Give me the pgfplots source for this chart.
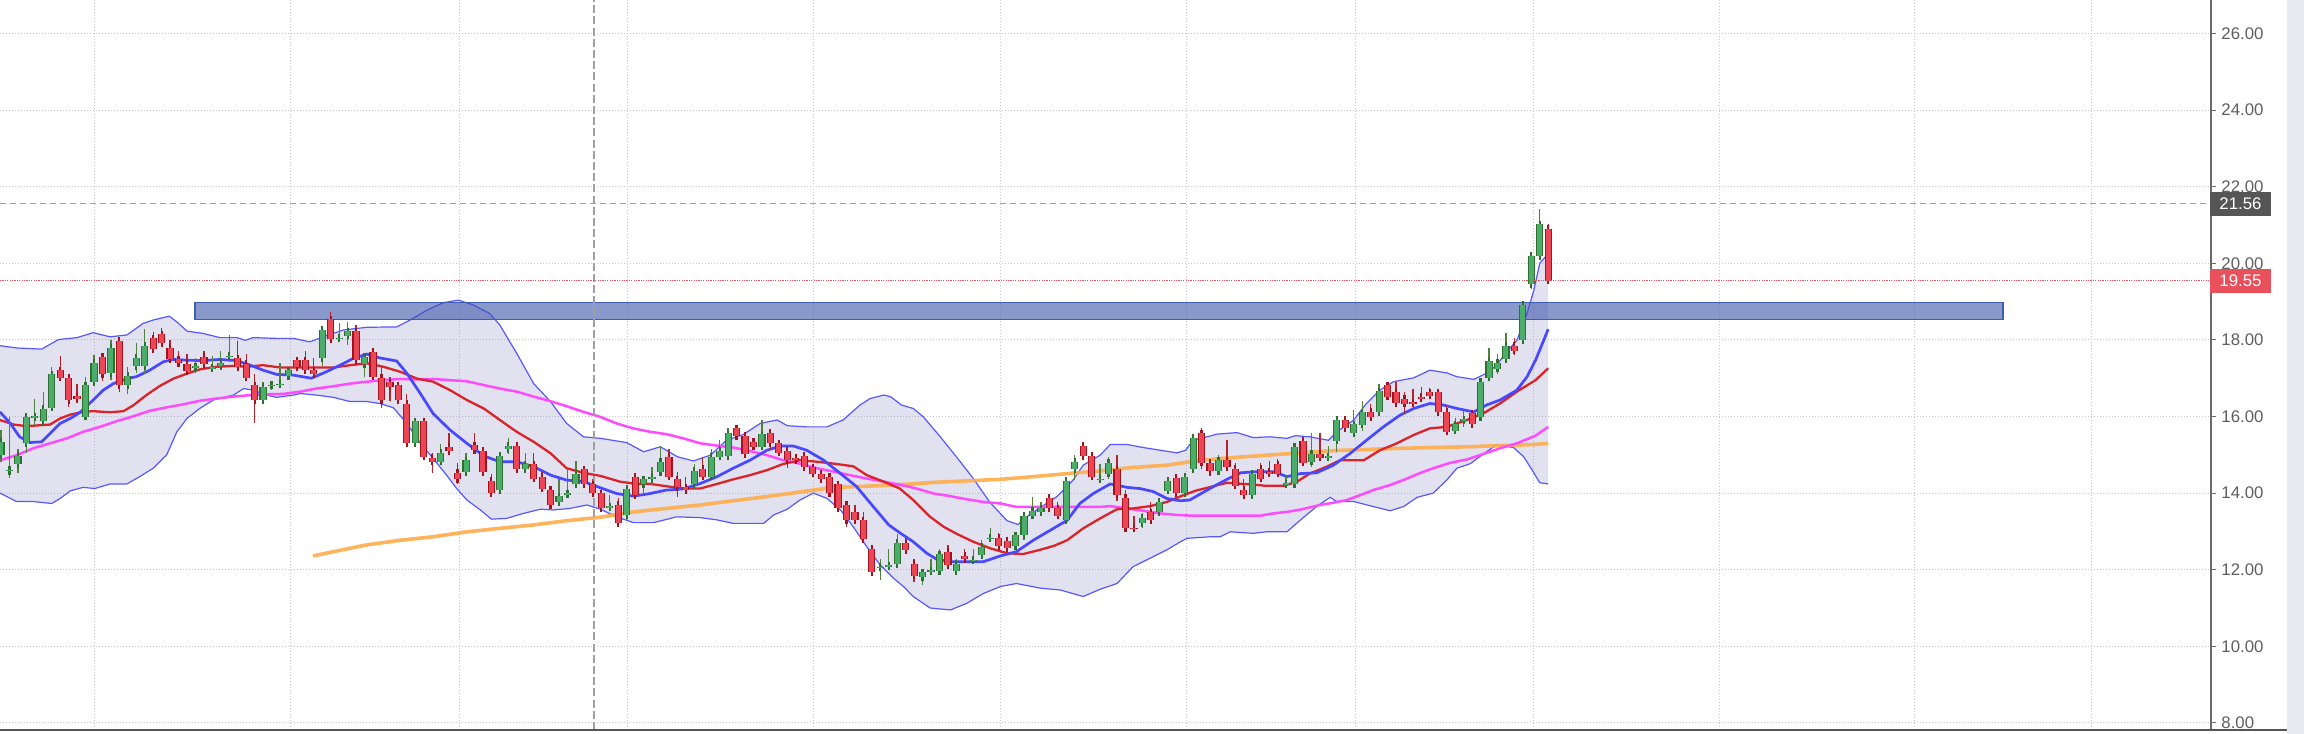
\documentclass[border=0pt]{standalone}
\usepackage{fontspec}
\setmainfont{Liberation Sans}
\usepackage{pgfplots}
\pgfplotsset{compat=1.18}
\usepackage{pgfplotstable}

\definecolor{gfill}{RGB}{76,172,106}
\definecolor{gline}{RGB}{46,112,46}
\definecolor{gwick}{RGB}{80,130,62}
\definecolor{rfill}{RGB}{234,70,86}
\definecolor{rline}{RGB}{165,18,30}
\definecolor{rwick}{RGB}{180,36,46}
\definecolor{bandfill}{RGB}{100,100,180}
\definecolor{bandline}{RGB}{88,88,255}
\definecolor{mablue}{RGB}{72,72,255}
\definecolor{mared}{RGB}{218,36,42}
\definecolor{mamag}{RGB}{255,75,255}
\definecolor{maorange}{RGB}{255,172,75}
\definecolor{zone}{RGB}{60,85,170}
\definecolor{zoneline}{RGB}{65,90,180}
\definecolor{gridc}{RGB}{200,200,200}
\definecolor{ticktext}{RGB}{95,95,95}
\definecolor{axisc}{RGB}{105,105,105}
\definecolor{lastred}{RGB}{232,80,92}
\definecolor{crossc}{RGB}{85,85,85}
\definecolor{dashc}{RGB}{160,160,160}
\definecolor{stripc}{RGB}{231,235,241}
\definecolor{bottomc}{RGB}{85,85,85}

\pgfplotstableread{
i O H L C
0 15.00 15.65 14.82 15.34
1 14.58 15.99 14.39 14.61
2 14.75 15.14 14.53 14.98
3 15.30 16.04 15.06 16.00
4 15.99 16.47 15.78 16.01
5 15.88 16.63 15.86 16.20
6 16.23 17.30 16.17 17.10
10 16.00 17.02 15.91 16.82
11 16.89 17.60 16.84 17.41
13 17.13 18.00 16.95 17.80
15 16.82 17.30 16.58 17.06
16 17.32 17.93 17.14 17.53
17 17.32 18.28 17.14 17.84
23 17.29 17.54 17.14 17.31
25 17.26 17.58 17.23 17.28
26 17.32 17.71 17.23 17.41
27 17.57 18.12 17.43 17.59
31 16.43 16.91 16.41 16.78
32 16.81 16.91 16.69 16.83
33 16.83 17.39 16.79 16.85
34 17.06 17.30 17.04 17.21
38 17.52 18.30 17.32 18.27
40 18.03 18.43 18.02 18.05
41 18.11 18.47 17.86 18.23
43 17.36 17.58 17.04 17.56
49 15.30 15.89 15.24 15.88
52 14.82 15.27 14.79 15.05
55 14.54 15.05 14.53 14.86
59 14.08 14.99 14.06 14.97
60 15.14 15.45 15.02 15.23
62 14.62 15.04 14.60 14.75
66 13.76 14.36 13.75 13.92
67 13.97 14.64 13.96 14.00
68 14.23 14.83 14.23 14.51
72 13.63 13.95 13.58 13.66
74 13.42 14.14 13.31 14.12
76 14.23 14.43 14.00 14.36
77 14.36 14.67 14.23 14.43
78 14.54 15.23 14.53 14.82
82 14.23 14.76 14.10 14.58
84 14.43 15.14 14.41 14.95
85 14.95 15.38 14.93 15.10
86 14.97 15.69 14.86 15.56
90 15.21 15.92 15.19 15.54
104 12.05 12.29 11.73 12.07
105 12.09 12.53 12.06 12.12
106 12.15 12.92 12.14 12.71
109 11.80 11.97 11.60 11.93
110 11.96 12.29 11.96 11.98
111 11.96 12.55 11.95 12.40
113 11.96 12.29 11.95 12.16
115 12.24 12.53 12.21 12.26
116 12.38 12.77 12.37 12.60
117 12.83 13.08 12.82 12.84
120 12.61 12.92 12.60 12.90
121 12.90 13.43 12.77 13.41
122 13.41 13.89 13.38 13.54
123 13.50 13.77 13.40 13.60
126 13.29 14.34 13.28 14.32
127 14.62 14.99 14.34 14.82
130 14.36 14.75 14.34 14.37
131 14.51 14.95 14.38 14.79
135 13.21 13.47 13.08 13.36
137 13.50 13.79 13.48 13.77
138 14.06 14.43 14.00 14.32
140 14.00 14.44 13.98 14.43
141 14.63 15.47 14.62 15.45
144 14.58 14.99 14.57 14.86
148 13.95 14.60 13.86 14.51
152 14.24 14.44 14.15 14.26
153 14.23 15.23 14.23 15.21
155 14.82 15.57 14.69 15.02
157 14.94 15.23 14.86 14.96
158 15.37 15.97 15.08 15.92
160 15.56 16.17 15.54 15.80
161 15.79 16.40 15.63 16.11
163 16.11 16.84 16.04 16.66
172 15.63 15.97 15.62 15.80
173 15.91 16.19 15.73 15.93
175 15.99 16.92 15.97 16.91
176 17.01 17.78 17.00 17.45
177 17.25 17.62 17.12 17.41
178 17.49 18.17 17.47 17.85
180 18.00 18.93 17.98 18.91
181 19.45 20.21 19.32 20.19
182 20.19 21.41 20.17 21.02
}\greencandles

\pgfplotstableread{
i O H L C
7 17.21 17.58 16.97 17.01
8 17.01 17.10 16.26 16.43
9 16.54 16.84 16.36 16.47
12 17.56 17.60 16.93 17.10
14 17.97 18.04 16.65 16.82
18 18.04 18.21 17.71 17.75
19 18.15 18.32 17.84 17.91
20 17.80 18.01 17.40 17.49
21 17.49 17.71 17.28 17.40
22 17.37 17.63 17.14 17.19
24 17.56 17.71 17.32 17.36
28 17.52 17.97 17.26 17.28
29 17.37 17.63 17.00 17.01
30 16.82 17.10 15.82 16.43
35 17.47 17.54 17.23 17.28
36 17.47 17.72 17.19 17.21
37 17.21 17.54 17.08 17.10
39 18.54 18.72 18.01 18.02
42 18.23 18.40 17.45 17.47
44 17.69 17.71 17.03 17.04
45 17.01 17.30 16.23 16.43
46 16.89 17.02 16.41 16.78
47 16.82 16.91 16.41 16.43
48 16.34 16.60 15.28 15.30
50 15.88 15.89 14.93 14.95
51 14.93 15.04 14.53 14.82
53 15.21 15.57 15.08 15.10
54 14.53 14.79 14.24 14.36
56 15.25 15.57 15.10 15.12
57 15.10 15.14 14.45 14.54
58 14.32 14.51 13.90 14.00
61 15.23 15.30 14.60 14.63
63 14.75 15.04 14.37 14.38
64 14.43 14.56 14.10 14.12
65 14.08 14.18 13.67 13.69
69 14.62 14.66 14.22 14.23
70 14.23 14.36 13.97 14.00
71 14.00 14.12 13.58 13.60
73 13.69 13.86 13.19 13.21
75 14.43 14.44 13.93 13.95
79 14.95 15.14 14.41 14.43
80 14.36 14.56 13.90 14.15
81 14.15 14.41 14.00 14.08
83 14.63 14.95 14.41 14.43
87 15.69 15.70 15.40 15.49
88 15.49 15.52 15.01 15.02
89 15.34 15.38 15.12 15.21
91 15.57 15.59 15.14 15.30
92 15.30 15.34 15.02 15.06
93 15.10 15.21 14.65 14.86
94 14.93 14.99 14.82 14.86
95 14.97 15.02 14.65 14.67
96 14.67 14.73 14.47 14.51
97 14.51 14.60 14.34 14.36
98 14.43 14.44 13.97 14.00
99 14.23 14.25 13.58 13.60
100 13.69 13.70 13.12 13.29
101 13.50 13.70 13.28 13.29
102 13.29 13.50 12.77 12.79
103 12.55 12.60 11.90 11.93
107 12.71 12.82 12.49 12.51
108 12.16 12.29 11.68 11.84
112 12.47 12.64 12.09 12.12
114 12.36 12.55 12.25 12.27
118 12.83 12.95 12.61 12.62
119 12.75 12.79 12.53 12.56
124 13.88 13.89 13.54 13.60
125 13.60 13.77 13.40 13.41
128 15.23 15.30 14.95 14.97
129 14.97 14.99 14.38 14.43
132 14.63 14.99 13.79 13.96
133 13.88 14.08 13.08 13.09
134 13.10 13.41 13.07 13.08
136 13.50 13.77 13.28 13.29
139 14.40 14.41 13.98 14.00
142 15.56 15.69 14.62 14.79
143 14.79 14.86 14.45 14.58
145 14.86 15.38 14.66 14.67
146 14.63 14.79 14.18 14.19
147 14.08 14.36 13.94 13.95
149 14.63 14.79 14.37 14.38
150 14.55 14.83 14.49 14.52
151 14.75 14.88 14.47 14.51
154 15.37 15.38 14.77 14.79
156 15.02 15.57 14.88 14.93
159 15.92 15.95 15.67 15.70
162 16.12 16.32 15.97 15.99
164 16.82 16.91 16.50 16.52
165 16.63 16.91 16.32 16.34
166 16.47 16.63 16.10 16.34
167 16.37 16.72 16.34 16.35
168 16.51 16.76 16.45 16.48
169 16.63 16.75 16.50 16.54
170 16.63 16.66 16.04 16.11
171 16.12 16.27 15.58 15.60
174 16.08 16.11 15.78 15.80
179 17.85 18.04 17.60 17.72
183 20.90 21.02 19.54 19.55
}\redcandles

\pgfplotsset{
  wick/.style={draw=none, mark=none, forget plot,
    error bars/.cd, y dir=both, y explicit,
    error bar style={line width=0.65bp, draw=#1}, error mark=none},
  bodyline/.style={draw=none, mark=none, forget plot,
    error bars/.cd, y dir=both, y explicit,
    error bar style={line width=3.6bp, draw=#1}, error mark=-,
    error mark options={line width=1.1bp, mark size=1.8bp, draw=#1}},
  bodyfill/.style={draw=none, mark=none, forget plot,
    error bars/.cd, y dir=both, y explicit,
    error bar style={line width=2.5bp, draw=#1}, error mark=none},
}

\newcommand{\labfont}{\fontsize{8.4bp}{10bp}\selectfont}

\begin{document}
\begin{tikzpicture}
\fill[white] (0,0) rectangle (1152bp,-367bp);
\fill[stripc] (1143.5bp,0) rectangle (1152bp,-367bp);
\begin{axis}[
  at={(0,0)}, anchor=north west,
  scale only axis, width=1105.5bp, height=365bp,
  xmin=-0.118, xmax=261.4, ymin=7.815, ymax=26.875,
  axis x line=bottom, axis y line=right,
  axis line style={-},
  x axis line style={draw=none},
  y axis line style={draw=axisc, line width=0.9bp},
  xtick={11.1,34.2,54.2,74.1,96.1,118.2,140.2,160.2,181.3,203.3,226.3,247.3},
  xticklabels={},
  xtick style={draw=none},
  ytick={8,10,12,14,16,18,20,22,24,26},
  ytick align=outside,
  ytick style={draw=axisc, line width=0.5bp},
  major tick length=2.5bp,
  grid=major,
  grid style={draw=gridc, line width=0.5bp, dash pattern=on 0.5bp off 1bp},
  scaled y ticks=false,
  y tick label style={font=\labfont, text=ticktext, anchor=west, inner sep=0pt, xshift=2.5bp,
    /pgf/number format/fixed, /pgf/number format/fixed zerofill, /pgf/number format/precision=2},
  /pgf/number format/assume math mode=true,
  no markers,
  clip=true,
]
% Bollinger band area (upper edge, then lower edge backwards)
\addplot[fill=bandfill, fill opacity=0.19, draw=none, mark=none, forget plot] coordinates {
(-0.12,17.85) (1.85,17.79) (4.8,17.76) (6.8,18.01) (9,18.06) (10.9,18.19) (12.9,18.08) (14.9,18.13) (16.8,18.43) (18,18.52) (19.9,18.62) (20.8,18.47) (22,18.23) (23.9,18.17) (25.9,18.06) (27.9,18.06) (28.9,17.99) (29.8,18.06) (32.6,18.04) (34.6,18.04) (36.5,17.95) (38.9,18.14) (40.5,18.26) (43.3,18.33) (46.8,18.34) (48.4,18.52) (50.4,18.78) (52.3,18.97) (54.1,19.04) (55.9,18.91) (57.8,18.69) (59,18.39) (61,17.65) (63,16.86) (65,16.39) (66.9,15.82) (68.9,15.47) (70.9,15.43) (74,15.32) (76,15.08) (78,15.21) (80,14.95) (81.9,14.84) (83.9,14.99) (85.8,15.38) (87.8,15.53) (89.8,15.82) (91.8,15.91) (93,15.76) (95.3,15.73) (97.7,15.73) (99.6,15.91) (101.6,16.3) (102.8,16.47) (104.4,16.56) (105.2,16.52) (106.5,16.3) (107.9,16.21) (109.1,15.99) (111.1,15.47) (113.1,14.92) (115,14.38) (117,13.75) (119,13.28) (120.3,13.18) (121.3,13.38) (122.9,13.62) (124.9,13.91) (126.8,14.34) (128,14.73) (130,14.99) (131.2,15.27) (133.2,15.27) (135.1,15.19) (137.1,15.12) (139.1,15.05) (140.1,15.12) (141,15.38) (143,15.49) (143.8,15.54) (146.2,15.58) (148.1,15.45) (150.1,15.47) (152.1,15.43) (153.1,15.5) (154.8,15.47) (157,15.38) (158,15.6) (160,15.91) (161.5,16.34) (163.1,16.69) (164.7,16.91) (167.1,17.01) (169,17.21) (171,17.14) (172.2,17.04) (174.2,16.97) (175.7,17.13) (176.9,17.34) (178.1,17.69) (179.3,17.99) (180.5,18.69) (181.3,19.3) (182,20.0) (183,20.25)
(183,14.24) (182,14.27) (181.3,14.53) (180.1,14.95) (178.9,15.19) (176.9,15.26) (175.3,15.02) (173.8,14.77) (172.2,14.65) (171,14.34) (169.4,14.0) (167.5,13.89) (165.9,13.65) (164.3,13.54) (162.3,13.65) (160,13.78) (158,13.78) (157.2,13.89) (155.6,13.65) (153.7,13.3) (152.1,12.99) (149.7,12.99) (148.1,12.95) (145.4,12.99) (144.2,12.86) (143,12.86) (140.3,12.82) (139.5,12.73) (137.9,12.52) (135.9,12.3) (133.9,12.08) (132,11.64) (130,11.49) (128,11.3) (125.3,11.47) (122.9,11.52) (120.1,11.64) (118.2,11.56) (116.2,11.38) (114.2,11.12) (112.3,10.95) (109.9,11.0) (107.9,11.3) (106.8,11.55) (105.6,11.77) (104,12.12) (102.4,12.6) (100.8,13.12) (99.3,13.56) (97.7,13.86) (96.1,14.0) (94.5,13.82) (93,13.58) (91.4,13.43) (90.2,13.21) (88.6,13.21) (86.6,13.21) (84.7,13.3) (82.7,13.36) (79.9,13.38) (77.2,13.23) (74.8,13.23) (72.8,13.38) (70.9,13.58) (69.3,13.69) (67.3,13.6) (65.3,13.56) (63.8,13.58) (61.8,13.47) (59.8,13.34) (58,13.32) (56.7,13.56) (55.1,13.82) (53.9,14.12) (52.7,14.47) (51.1,14.91) (49.6,15.3) (48,15.82) (46.4,16.23) (44.8,16.34) (43.3,16.39) (41.3,16.39) (39.3,16.5) (37.3,16.56) (35.4,16.6) (34.6,16.56) (32.6,16.5) (31.4,16.56) (29.8,16.69) (28.7,16.73) (27.5,16.56) (25.1,16.43) (23.5,16.21) (22,15.95) (20.8,15.6) (19.6,15.0) (18,14.65) (16.4,14.43) (14.9,14.24) (12.9,14.24) (11.1,14.12) (9.7,14.15) (8.2,14.06) (7,13.86) (6,13.73) (3.8,13.78) (1.85,13.78) (-0.12,14.0)} -- cycle;
% band edges
\addplot[draw=bandline, line width=0.6bp, mark=none, forget plot] coordinates {
(-0.12,17.85) (1.85,17.79) (4.8,17.76) (6.8,18.01) (9,18.06) (10.9,18.19) (12.9,18.08) (14.9,18.13) (16.8,18.43) (18,18.52) (19.9,18.62) (20.8,18.47) (22,18.23) (23.9,18.17) (25.9,18.06) (27.9,18.06) (28.9,17.99) (29.8,18.06) (32.6,18.04) (34.6,18.04) (36.5,17.95) (38.9,18.14) (40.5,18.26) (43.3,18.33) (46.8,18.34) (48.4,18.52) (50.4,18.78) (52.3,18.97) (54.1,19.04) (55.9,18.91) (57.8,18.69) (59,18.39) (61,17.65) (63,16.86) (65,16.39) (66.9,15.82) (68.9,15.47) (70.9,15.43) (74,15.32) (76,15.08) (78,15.21) (80,14.95) (81.9,14.84) (83.9,14.99) (85.8,15.38) (87.8,15.53) (89.8,15.82) (91.8,15.91) (93,15.76) (95.3,15.73) (97.7,15.73) (99.6,15.91) (101.6,16.3) (102.8,16.47) (104.4,16.56) (105.2,16.52) (106.5,16.3) (107.9,16.21) (109.1,15.99) (111.1,15.47) (113.1,14.92) (115,14.38) (117,13.75) (119,13.28) (120.3,13.18) (121.3,13.38) (122.9,13.62) (124.9,13.91) (126.8,14.34) (128,14.73) (130,14.99) (131.2,15.27) (133.2,15.27) (135.1,15.19) (137.1,15.12) (139.1,15.05) (140.1,15.12) (141,15.38) (143,15.49) (143.8,15.54) (146.2,15.58) (148.1,15.45) (150.1,15.47) (152.1,15.43) (153.1,15.5) (154.8,15.47) (157,15.38) (158,15.6) (160,15.91) (161.5,16.34) (163.1,16.69) (164.7,16.91) (167.1,17.01) (169,17.21) (171,17.14) (172.2,17.04) (174.2,16.97) (175.7,17.13) (176.9,17.34) (178.1,17.69) (179.3,17.99) (180.5,18.69) (181.3,19.3) (182,20.0) (183,20.25)};
\addplot[draw=bandline, line width=0.6bp, mark=none, forget plot] coordinates {
(-0.12,14.0) (1.85,13.78) (3.8,13.78) (6,13.73) (7,13.86) (8.2,14.06) (9.7,14.15) (11.1,14.12) (12.9,14.24) (14.9,14.24) (16.4,14.43) (18,14.65) (19.6,15.0) (20.8,15.6) (22,15.95) (23.5,16.21) (25.1,16.43) (27.5,16.56) (28.7,16.73) (29.8,16.69) (31.4,16.56) (32.6,16.5) (34.6,16.56) (35.4,16.6) (37.3,16.56) (39.3,16.5) (41.3,16.39) (43.3,16.39) (44.8,16.34) (46.4,16.23) (48,15.82) (49.6,15.3) (51.1,14.91) (52.7,14.47) (53.9,14.12) (55.1,13.82) (56.7,13.56) (58,13.32) (59.8,13.34) (61.8,13.47) (63.8,13.58) (65.3,13.56) (67.3,13.6) (69.3,13.69) (70.9,13.58) (72.8,13.38) (74.8,13.23) (77.2,13.23) (79.9,13.38) (82.7,13.36) (84.7,13.3) (86.6,13.21) (88.6,13.21) (90.2,13.21) (91.4,13.43) (93,13.58) (94.5,13.82) (96.1,14.0) (97.7,13.86) (99.3,13.56) (100.8,13.12) (102.4,12.6) (104,12.12) (105.6,11.77) (106.8,11.55) (107.9,11.3) (109.9,11.0) (112.3,10.95) (114.2,11.12) (116.2,11.38) (118.2,11.56) (120.1,11.64) (122.9,11.52) (125.3,11.47) (128,11.3) (130,11.49) (132,11.64) (133.9,12.08) (135.9,12.3) (137.9,12.52) (139.5,12.73) (140.3,12.82) (143,12.86) (144.2,12.86) (145.4,12.99) (148.1,12.95) (149.7,12.99) (152.1,12.99) (153.7,13.3) (155.6,13.65) (157.2,13.89) (158,13.78) (160,13.78) (162.3,13.65) (164.3,13.54) (165.9,13.65) (167.5,13.89) (169.4,14.0) (171,14.34) (172.2,14.65) (173.8,14.77) (175.3,15.02) (176.9,15.26) (178.9,15.19) (180.1,14.95) (181.3,14.53) (182,14.27) (183,14.24)};

% 200-day (orange)
\addplot[draw=maorange, line width=1.8bp, draw opacity=0.9, mark=none] coordinates {
(36.9,12.36) (39.3,12.47) (43.3,12.65) (47.2,12.77) (51.1,12.86) (55.1,12.99) (59,13.08) (63,13.17) (66.9,13.28) (70.9,13.37) (74.8,13.51) (78.7,13.6) (82.7,13.69) (86.6,13.8) (90.6,13.91) (94.5,14.03) (98.5,14.15) (102.4,14.18) (107,14.23) (110.3,14.28) (114.2,14.32) (118.2,14.36) (122.1,14.43) (126.1,14.51) (130,14.58) (133.9,14.67) (137.9,14.73) (142,14.86) (145.8,14.93) (149.7,14.99) (153.7,15.05) (157.6,15.11) (161.5,15.14) (165.5,15.17) (169.4,15.19) (173.4,15.21) (177.3,15.24) (181.5,15.27) (183,15.3)};
% magenta
\addplot[draw=mamag, line width=1.25bp, mark=none] coordinates {
(-0.12,14.86) (1.85,14.99) (3.8,15.17) (5.8,15.3) (7.8,15.43) (9.7,15.6) (11.7,15.73) (13.7,15.88) (15.7,16.01) (17.6,16.15) (19.6,16.24) (21.6,16.32) (23.5,16.41) (25.5,16.47) (27.5,16.52) (29.5,16.56) (31.4,16.58) (33.4,16.59) (35.4,16.65) (37.3,16.73) (39.3,16.79) (41.3,16.86) (43.3,16.91) (45.2,16.95) (47.2,16.98) (49.2,16.97) (51.1,16.98) (53.1,16.95) (55.1,16.92) (57.1,16.82) (59,16.73) (61,16.65) (63,16.52) (65,16.4) (66.9,16.27) (68.9,16.12) (70.9,15.99) (72.8,15.82) (74.8,15.69) (76.8,15.6) (78.7,15.54) (80.7,15.43) (82.7,15.3) (84.7,15.24) (86.6,15.19) (88.6,15.1) (90.6,14.99) (92.5,14.86) (94.5,14.77) (96.5,14.65) (98.5,14.56) (100.4,14.47) (102.4,14.38) (104.4,14.3) (106.3,14.22) (108.3,14.12) (110.3,13.99) (112.3,13.92) (114.2,13.84) (116.2,13.77) (118.2,13.73) (120.1,13.64) (130,13.64) (131.2,13.66) (133.2,13.6) (135.1,13.54) (137.1,13.47) (139.1,13.43) (141,13.41) (148.9,13.41) (150.5,13.47) (152.1,13.51) (153.7,13.57) (156,13.69) (157.6,13.75) (159.2,13.82) (160.8,13.95) (162.3,14.08) (164.3,14.21) (166.3,14.38) (167.9,14.53) (169.4,14.65) (171.4,14.79) (173.4,14.88) (175.3,15.02) (177.3,15.17) (179.3,15.3) (181.5,15.5) (183,15.73)};
% red
\addplot[draw=mared, line width=1.15bp, mark=none] coordinates {
(-0.12,15.91) (1.5,15.79) (2.6,15.76) (3.8,15.76) (5.8,15.79) (7,15.95) (8.2,16.05) (9.7,16.12) (10.9,16.14) (12.9,16.11) (14.5,16.14) (15.7,16.3) (17.2,16.56) (18.8,16.8) (20.4,16.99) (22,17.12) (23.5,17.23) (25.5,17.3) (27.5,17.32) (29.1,17.3) (31,17.34) (33,17.28) (34.6,17.28) (36.7,17.28) (39.3,17.28) (41.3,17.34) (43.3,17.39) (45.2,17.3) (47.2,17.17) (49.2,16.99) (51.1,16.91) (53.1,16.69) (55.1,16.43) (57.1,16.21) (59,15.91) (61,15.6) (63,15.34) (65,15.04) (66.9,14.65) (68.9,14.53) (70.9,14.45) (73.2,14.3) (74.8,14.25) (76.8,14.24) (78.7,14.18) (80.7,14.12) (82.7,14.12) (84.7,14.24) (86.6,14.36) (88.6,14.47) (90.6,14.6) (92.5,14.76) (94.5,14.86) (96.5,14.82) (98.5,14.77) (100.8,14.7) (102.4,14.47) (104.4,14.3) (106.3,14.12) (107.9,13.82) (109.9,13.38) (111.5,13.12) (113.1,12.93) (115,12.73) (117,12.56) (119,12.43) (120.9,12.41) (122.9,12.52) (124.5,12.62) (126.1,12.77) (128,13.08) (130,13.34) (132,13.58) (133.9,13.6) (135.9,13.66) (137.9,13.77) (139.9,13.95) (141.4,14.07) (143.4,14.18) (145,14.27) (147,14.24) (149.7,14.19) (151.7,14.19) (153.3,14.3) (154.8,14.51) (156.8,14.69) (158.4,14.86) (161.2,14.86) (163.1,15.12) (165.1,15.3) (167.1,15.52) (169,15.69) (171,15.73) (173.4,15.91) (175.3,16.08) (177.3,16.34) (179.3,16.65) (181.5,16.95) (183,17.26)};
% blue
\addplot[draw=mablue, line width=1.35bp, mark=none] coordinates {
(-0.12,16.12) (1.1,15.82) (2.2,15.47) (3.4,15.32) (4.8,15.34) (6,15.6) (7,15.82) (8.2,15.95) (9.3,16.1) (10.9,16.43) (12.1,16.69) (13.3,16.86) (14.9,16.99) (16,17.04) (17.6,17.21) (19.2,17.43) (20.4,17.49) (22,17.47) (23.9,17.46) (25.9,17.49) (27.9,17.46) (29.5,17.34) (31,17.21) (32.6,17.1) (34.6,17.08) (36.7,17.0) (38.5,17.17) (40.1,17.34) (41.7,17.52) (43.3,17.63) (44.8,17.53) (46.8,17.45) (48,17.13) (49.6,16.6) (51.1,16.08) (53.1,15.65) (55.1,15.3) (57.1,14.97) (59,14.82) (61,14.82) (63,14.69) (65,14.47) (66.9,14.34) (68.9,14.3) (70.9,14.14) (72.8,13.99) (74.8,13.92) (76.8,13.99) (78.7,14.08) (80.7,14.11) (82.7,14.25) (84.7,14.43) (86.6,14.65) (88.6,14.86) (90.6,15.12) (92.2,15.23) (93.7,15.23) (95.3,15.12) (97.3,14.86) (99.3,14.51) (101.2,14.17) (103.2,13.64) (105,13.17) (106.4,12.95) (107.9,12.73) (109.5,12.43) (110.7,12.27) (112.3,12.21) (114.2,12.21) (116.2,12.21) (118.2,12.36) (120.1,12.47) (122.1,12.77) (124.1,13.03) (126.1,13.29) (127.6,13.73) (129.2,13.99) (131.2,14.24) (133.2,14.15) (134.7,14.12) (136.3,14.04) (137.9,13.86) (139.5,13.8) (140.6,13.82) (141.8,13.97) (143.4,14.17) (145,14.36) (146.6,14.53) (148.5,14.56) (150.5,14.56) (152.1,14.43) (153.7,14.51) (155.6,14.53) (157.6,14.73) (159.6,15.04) (161.5,15.38) (163.5,15.73) (165.5,16.04) (167.1,16.21) (169,16.34) (170.6,16.3) (172.2,16.21) (174.2,16.12) (175.7,16.3) (177.3,16.43) (179.3,16.69) (180.5,17.04) (181.5,17.47) (182.3,17.9) (183,18.28)};

% resistance zone
\addplot[fill=zone, fill opacity=0.6, draw=zoneline, line width=0.6bp, mark=none, forget plot] coordinates {(22.95,18.53) (236.8,18.53) (236.8,18.97) (22.95,18.97)} -- cycle;

% crosshair lines
\addplot[draw=dashc, line width=0.55bp, dash pattern=on 3bp off 2bp, mark=none, forget plot] coordinates {(-0.118,21.56) (261.4,21.56)};
\addplot[draw=dashc, line width=0.65bp, dash pattern=on 4bp off 1.6bp, mark=none, forget plot] coordinates {(70.14,7.815) (70.14,26.875)};

% candles
\addplot[wick=gwick] table[x=i, y expr={(\thisrow{H}+\thisrow{L})/2}, y error expr={(\thisrow{H}-\thisrow{L})/2}] {\greencandles};
\addplot[wick=rwick] table[x=i, y expr={(\thisrow{H}+\thisrow{L})/2}, y error expr={(\thisrow{H}-\thisrow{L})/2}] {\redcandles};
\addplot[bodyline=gline] table[x=i, y expr={(\thisrow{O}+\thisrow{C})/2}, y error expr={(\thisrow{C}-\thisrow{O})/2}] {\greencandles};
\addplot[bodyline=rline] table[x=i, y expr={(\thisrow{O}+\thisrow{C})/2}, y error expr={(\thisrow{O}-\thisrow{C})/2}] {\redcandles};
\addplot[bodyfill=gfill] table[x=i, y expr={(\thisrow{O}+\thisrow{C})/2}, y error expr={(\thisrow{C}-\thisrow{O})/2}] {\greencandles};
\addplot[bodyfill=rfill] table[x=i, y expr={(\thisrow{O}+\thisrow{C})/2}, y error expr={(\thisrow{O}-\thisrow{C})/2}] {\redcandles};

\addplot[draw=lastred, line width=0.6bp, dash pattern=on 0.6bp off 0.6bp, mark=none, forget plot] coordinates {(-0.118,19.55) (261.4,19.55)};

\coordinate (labA) at (axis cs:261.4,21.56);
\coordinate (labB) at (axis cs:261.4,19.55);
\end{axis}
\node[fill=crossc, text=white, font=\labfont, inner xsep=4.5bp, inner ysep=0pt, minimum height=12bp, anchor=west] at ([xshift=-0.5bp]labA) {21.56};
\node[fill=lastred, text=white, font=\labfont, inner xsep=4.5bp, inner ysep=0pt, minimum height=12bp, anchor=west] at ([xshift=-0.5bp]labB) {19.55};
\draw[bottomc, line width=1bp] (0,-365bp) -- (1143.5bp,-365bp);
\pgfresetboundingbox
\path[use as bounding box] (0,0) rectangle (1152bp,-367bp);
\end{tikzpicture}
\end{document}
